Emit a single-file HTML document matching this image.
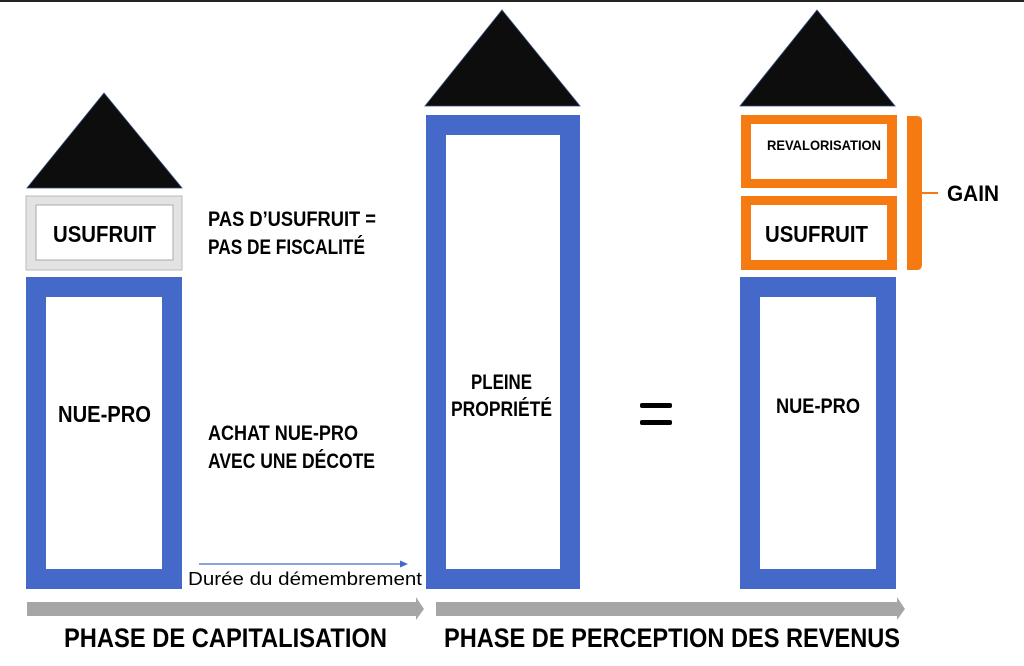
<!DOCTYPE html>
<html><head><meta charset="utf-8"><style>
html,body{margin:0;padding:0;background:#fff;}
svg{display:block;}
text{font-family:"Liberation Sans",sans-serif;font-weight:bold;fill:#000;}
</style></head><body>
<svg width="1024" height="666" viewBox="0 0 1024 666" xmlns="http://www.w3.org/2000/svg">
<rect x="0" y="0" width="1024" height="2" fill="#222"/>
<!-- Left house -->
<polygon points="104,93 182,188 27,188" fill="#0d0d0d" stroke="#2f4a7a" stroke-width="0.8"/>
<rect x="26" y="196" width="156" height="74" fill="#e3e3e3" stroke="#bbb" stroke-width="1"/>
<rect x="36" y="205" width="137" height="55" fill="#fff" stroke="#aaa" stroke-width="1"/>
<text x="53" y="242" font-size="23" textLength="103" lengthAdjust="spacingAndGlyphs">USUFRUIT</text>
<rect x="26" y="277" width="156" height="312" fill="#4469c8"/>
<rect x="46" y="297" width="116" height="272" fill="#fff"/>
<text x="58" y="422" font-size="23" textLength="93" lengthAdjust="spacingAndGlyphs">NUE-PRO</text>
<!-- Left texts -->
<text x="208" y="226" font-size="21" textLength="168" lengthAdjust="spacingAndGlyphs">PAS D’USUFRUIT =</text>
<text x="208" y="254" font-size="21" textLength="157" lengthAdjust="spacingAndGlyphs">PAS DE FISCALITÉ</text>
<text x="208" y="440" font-size="21" textLength="150" lengthAdjust="spacingAndGlyphs">ACHAT NUE-PRO</text>
<text x="208" y="468" font-size="21" textLength="167" lengthAdjust="spacingAndGlyphs">AVEC UNE DÉCOTE</text>
<!-- blue thin arrow -->
<line x1="199" y1="564" x2="402" y2="564" stroke="#4469c8" stroke-width="1.2"/>
<polygon points="408,564 400,560.5 400,567.5" fill="#4469c8"/>
<text x="188" y="585" font-size="18" style="font-weight:normal" textLength="234" lengthAdjust="spacingAndGlyphs">Durée du démembrement</text>
<!-- Middle -->
<polygon points="502,10 580,106 425,106" fill="#0d0d0d" stroke="#2f4a7a" stroke-width="0.8"/>
<rect x="426" y="115" width="154" height="474" fill="#4469c8"/>
<rect x="446" y="135" width="114" height="434" fill="#fff"/>
<text x="471" y="389" font-size="21" textLength="61" lengthAdjust="spacingAndGlyphs">PLEINE</text>
<text x="451" y="416" font-size="21" textLength="101" lengthAdjust="spacingAndGlyphs">PROPRIÉTÉ</text>
<!-- equals -->
<rect x="640" y="403" width="32" height="5" rx="2" fill="#000"/>
<rect x="640" y="420" width="32" height="5" rx="2" fill="#000"/>
<!-- Right -->
<polygon points="817,10 895,106 740,106" fill="#0d0d0d" stroke="#2f4a7a" stroke-width="0.8"/>
<rect x="741" y="115" width="156" height="73" fill="#f57a12"/>
<rect x="751" y="124" width="136" height="55" fill="#fff"/>
<text x="767" y="150" font-size="14" textLength="114" lengthAdjust="spacingAndGlyphs">REVALORISATION</text>
<rect x="741" y="196" width="156" height="74" fill="#f57a12"/>
<rect x="751" y="205" width="136" height="55" fill="#fff"/>
<text x="765" y="242" font-size="23" textLength="103" lengthAdjust="spacingAndGlyphs">USUFRUIT</text>
<rect x="740" y="277" width="156" height="312" fill="#4469c8"/>
<rect x="760" y="297" width="116" height="272" fill="#fff"/>
<text x="776" y="413" font-size="21" textLength="84" lengthAdjust="spacingAndGlyphs">NUE-PRO</text>
<!-- bracket -->
<path d="M907,116 L917,116 Q922,116 922,121 L922,264 Q922,270 917,270 L907,270 Z" fill="#f57a12"/>
<rect x="922" y="192" width="16" height="2" fill="#f57a12"/>
<text x="947" y="201" font-size="22" textLength="52" lengthAdjust="spacingAndGlyphs">GAIN</text>
<!-- gray arrows -->
<polygon points="27,602 416,602 416,597 424,609 416,620 416,616 27,616" fill="#a6a6a6"/>
<polygon points="436,602 897,602 897,597 905,609 897,620 897,616 436,616" fill="#a6a6a6"/>
<text x="64" y="647" font-size="27" textLength="323" lengthAdjust="spacingAndGlyphs">PHASE DE CAPITALISATION</text>
<text x="444" y="647" font-size="27" textLength="456" lengthAdjust="spacingAndGlyphs">PHASE DE PERCEPTION DES REVENUS</text>
</svg>
</body></html>
